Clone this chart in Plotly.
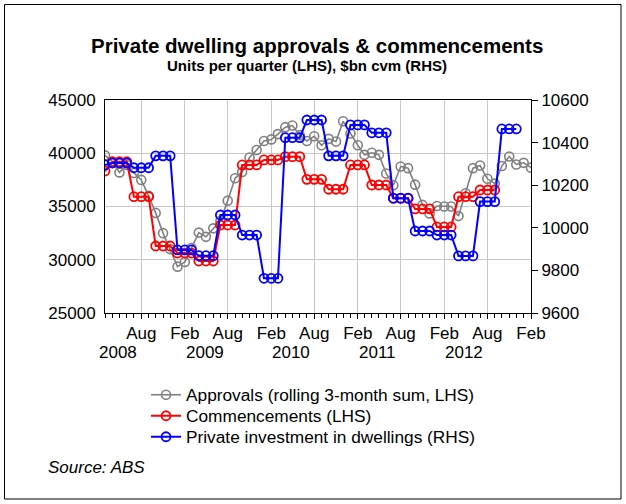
import plotly.graph_objects as go
import pandas as pd

# Monthly dates Mar 2008 - Feb 2013
months = pd.date_range("2008-03-01", "2013-02-01", freq="MS")

approvals = [39800, 39200, 38200, 38900, 38150, 37500, 36000, 34400, 32500, 31000,
             29350, 29800, 31100, 32550, 32150, 32950, 33650, 35550, 37650, 38250,
             39600, 40300, 41150, 41300, 41800, 42450, 42600, 41700, 41150, 41600,
             40750, 41350, 41100, 43000, 41850, 40750, 39850, 40050, 39850, 38100,
             37000, 38750, 38600, 37050, 35150, 34350, 35050, 35000, 35000, 34100,
             36250, 38600, 38850, 37600, 37150, 38800, 39700, 38950, 39100, 38650]

# quarterly values (shown as repeated monthly points); first value = Mar 2008
commence_q = [38330, 39200, 35920, 31290, 30630, 29880, 33260, 38900, 39370, 39680,
              37550, 36620, 38900, 37020, 35770, 34770, 33080, 35920, 36550]
invest_q = [10295, 10304, 10282, 10338, 9896, 9869, 10060, 9966, 9763, 10423,
            10506, 10338, 10483, 10446, 10139, 9985, 9966, 9868, 10123, 10464]

def expand(q):
    out = [q[0]]
    for v in q[1:]:
        out += [v, v, v]
    return out

commence = expand(commence_q)
invest = expand(invest_q)

tick_dates = pd.date_range("2008-08-01", "2013-02-01", freq="6MS")
tick_text = [d.strftime("%b") for d in tick_dates]
years = ["2008", "2009", "2010", "2011", "2012"]

FONT = "Liberation Sans, Arial, sans-serif"

fig = go.Figure()
fig.add_trace(go.Scatter(x=months[:len(approvals)], y=approvals, mode="lines+markers",
                         name="Approvals (rolling 3-month sum, LHS)", legend="legend",
                         line=dict(color="#808080", width=1.6),
                         marker=dict(symbol="circle-open", size=9, color="#808080", line=dict(width=1.6))))
fig.add_trace(go.Scatter(x=months[:len(commence)], y=commence, mode="lines+markers",
                         name="Commencements (LHS)", legend="legend2",
                         line=dict(color="#ff0000", width=2),
                         marker=dict(symbol="circle-open", size=9, color="#ff0000", line=dict(width=1.8))))
fig.add_trace(go.Scatter(x=months[:len(invest)], y=invest, mode="lines+markers",
                         name="Private investment in dwellings (RHS)", yaxis="y2", legend="legend3",
                         line=dict(color="#0000ff", width=2),
                         marker=dict(symbol="circle-open", size=9, color="#0000ff", line=dict(width=1.8))))

L, R, T, B = 105, 95, 100, 191
W, H = 626, 504
pw, ph = W - L - R, H - T - B

def px(x):
    return (x - L) / pw

def py(y):
    return (H - B - y) / ph

annotations = [
    dict(text="<b>Private dwelling approvals & commencements</b>", x=px(317), y=py(46),
         xref="paper", yref="paper", showarrow=False, xanchor="center", yanchor="middle",
         font=dict(size=20.5, family=FONT, color="black")),
    dict(text="<b>Units per quarter (LHS), $bn cvm (RHS)</b>", x=px(307), y=py(66),
         xref="paper", yref="paper", showarrow=False, xanchor="center", yanchor="middle",
         font=dict(size=15, family=FONT, color="black")),
    dict(text="<i>Source: ABS</i>", x=px(46), y=py(467), xref="paper", yref="paper",
         showarrow=False, xanchor="left", yanchor="middle",
         font=dict(size=17, family=FONT, color="black")),
]
for yr in years:
    annotations.append(dict(text=yr, x=f"{yr}-04-25", y=py(352), xref="x", yref="paper",
                            showarrow=False, xanchor="center", yanchor="middle",
                            font=dict(size=17, family=FONT, color="black")))

def leg(top):
    return dict(x=px(146), y=py(top), xanchor="left", yanchor="top",
                font=dict(size=17.3, family=FONT, color="black"), bgcolor="rgba(0,0,0,0)",
                itemwidth=30)

fig.update_layout(
    width=W, height=H,
    margin=dict(l=L, r=R, t=T, b=B, pad=0),
    paper_bgcolor="white", plot_bgcolor="white",
    font=dict(family=FONT, size=17, color="black"),
    showlegend=True,
    legend=leg(377), legend2=leg(398), legend3=leg(419),
    xaxis=dict(type="date", range=["2008-03-01", "2013-02-01"],
               tickmode="array", tickvals=list(tick_dates), ticktext=tick_text,
               showgrid=True, gridcolor="#c8c8c8", gridwidth=1,
               showline=True, linecolor="black", linewidth=1, mirror=True,
               ticks="outside", ticklen=5, tickcolor="black",
               minor=dict(dtick="M1", tick0="2008-03-01", ticks="outside", ticklen=4,
                          tickcolor="black", showgrid=False),
               tickfont=dict(size=17), tickangle=0, zeroline=False),
    yaxis=dict(range=[25000, 45000], dtick=5000, tick0=25000, tickformat="d",
               showgrid=True, gridcolor="#c8c8c8", gridwidth=1,
               showline=True, linecolor="black", linewidth=1, mirror=True,
               ticks="", ticklabelstandoff=5, tickfont=dict(size=17), zeroline=False),
    yaxis2=dict(range=[9600, 10600], dtick=200, tick0=9600, overlaying="y", side="right",
                tickformat="d",
                showgrid=False, showline=True, linecolor="black", linewidth=1,
                ticks="outside", ticklen=6, tickcolor="black",
                tickfont=dict(size=17), zeroline=False),
    annotations=annotations,
    shapes=[dict(type="rect", xref="paper", yref="paper",
                 x0=px(4.5), x1=px(621), y0=py(499), y1=py(4.5),
                 line=dict(color="black", width=1), fillcolor="rgba(0,0,0,0)", layer="below")],
)

fig.write_html("out.html", config={"displayModeBar": False},
               post_script="document.body.style.margin='0';document.body.style.overflow='hidden';")
